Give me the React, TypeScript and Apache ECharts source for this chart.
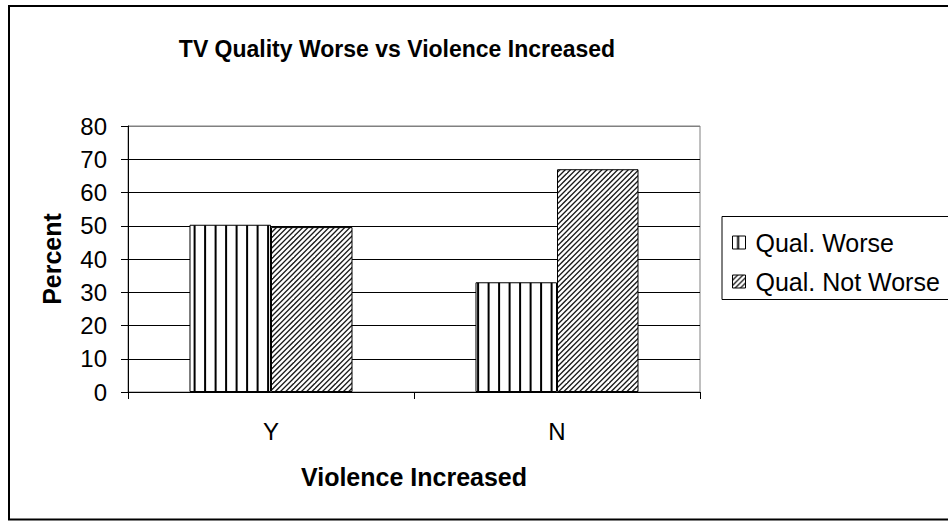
import React, { useEffect, useRef } from "react";
import * as echarts from "echarts";

const categories = ["Y", "N"];
const qualWorse = [50.3, 33];
const qualNotWorse = [49.6, 67];
const seriesNames = ["Qual. Worse", "Qual. Not Worse"];
const yTicks = { min: 0, max: 80, interval: 10 };

const FONT = "'Liberation Sans', Arial, Helvetica, sans-serif";

function makeVertical(): HTMLCanvasElement {
  const c = document.createElement("canvas");
  c.width = 21;
  c.height = 21;
  const ctx = c.getContext("2d")!;
  ctx.fillStyle = "#fff";
  ctx.fillRect(0, 0, 21, 21);
  ctx.fillStyle = "#000";
  ctx.fillRect(4.6, 0, 2, 21);
  ctx.fillRect(15.1, 0, 2, 21);
  return c;
}

function makeDiagonal(): HTMLCanvasElement {
  const c = document.createElement("canvas");
  c.width = 21;
  c.height = 21;
  const ctx = c.getContext("2d")!;
  ctx.fillStyle = "#fff";
  ctx.fillRect(0, 0, 21, 21);
  ctx.strokeStyle = "#1a1a1a";
  ctx.lineWidth = 1.3;
  for (let k = -2; k <= 12; k++) {
    const cc = k * 5.25;
    ctx.beginPath();
    ctx.moveTo(cc + 21, -21);
    ctx.lineTo(cc - 42, 42);
    ctx.stroke();
  }
  return c;
}

export default function App() {
  const ref = useRef<HTMLDivElement>(null);
  useEffect(() => {
    if (!ref.current) return;
    const chart = echarts.init(ref.current, null, { renderer: "svg" });
    const vPat = { image: makeVertical(), repeat: "repeat" };
    const dPat = { image: makeDiagonal(), repeat: "repeat" };
    const splitColors = ["#000", "#000", "#000", "#000", "#000", "#000", "#000", "#000", "#808080"];
    chart.setOption({
      animation: false,
      backgroundColor: "#fff",
      textStyle: { fontFamily: FONT, color: "#000" },
      title: {
        text: "TV Quality Worse vs Violence Increased",
        left: 392,
        top: 32,
        textAlign: "center",
        textStyle: { fontFamily: FONT, fontSize: 23, fontWeight: "bold", color: "#000" },
      },
      grid: {
        left: 128,
        top: 126,
        right: 248,
        bottom: 129,
        show: true,
        borderColor: "#808080",
        borderWidth: 1,
        backgroundColor: "transparent",
      },
      legend: {
        data: seriesNames,
        orient: "vertical",
        left: 732,
        top: 230,
        icon: "rect",
        itemWidth: 13,
        itemHeight: 13,
        itemGap: 14,
        padding: 0,
        itemStyle: { borderColor: "#000", borderWidth: 1 },
        textStyle: { fontFamily: FONT, fontSize: 25, color: "#000", lineHeight: 25, padding: [0, 0, 0, 5] },
      },
      xAxis: {
        type: "category",
        data: categories,
        name: "Violence Increased",
        nameLocation: "middle",
        nameGap: 72,
        nameTextStyle: { fontFamily: FONT, fontSize: 25, fontWeight: "bold", color: "#000" },
        axisLine: { lineStyle: { color: "#000", width: 1 } },
        axisTick: { show: true, length: 7, lineStyle: { color: "#000" }, alignWithLabel: false },
        axisLabel: { fontFamily: FONT, fontSize: 24, color: "#000", margin: 27 },
      },
      yAxis: {
        type: "value",
        min: yTicks.min,
        max: yTicks.max,
        interval: yTicks.interval,
        name: "Percent",
        nameLocation: "middle",
        nameRotate: 90,
        nameGap: 64,
        nameTextStyle: { fontFamily: FONT, fontSize: 25, fontWeight: "bold", color: "#000" },
        axisLine: { show: true, lineStyle: { color: "#000", width: 1 } },
        axisTick: { show: true, length: 7, lineStyle: { color: "#000" } },
        axisLabel: { fontFamily: FONT, fontSize: 24, color: "#000", margin: 21 },
        splitLine: { show: true, lineStyle: { color: splitColors, width: 1 } },
      },
      series: [
        {
          name: seriesNames[0],
          type: "bar",
          data: qualWorse,
          barGap: "0%",
          barCategoryGap: "43%",
          itemStyle: { color: vPat, borderColor: "#000", borderWidth: 1 },
        },
        {
          name: seriesNames[1],
          type: "bar",
          data: qualNotWorse,
          barGap: "0%",
          barCategoryGap: "43%",
          itemStyle: { color: dPat, borderColor: "#000", borderWidth: 1 },
        },
      ],
      graphic: [
        {
          type: "rect",
          shape: { x: 9, y: 6, width: 960, height: 513.5 },
          style: { fill: "none", stroke: "#000", lineWidth: 2 },
          silent: true,
        },
        {
          type: "rect",
          shape: { x: 722, y: 216.5, width: 240, height: 83 },
          style: { fill: "none", stroke: "#000", lineWidth: 1 },
          silent: true,
        },
      ],
    });
    return () => chart.dispose();
  }, []);
  return (
    <div
      ref={ref}
      style={{ position: "fixed", left: 0, top: 0, width: 948, height: 521, background: "#fff" }}
    />
  );
}
